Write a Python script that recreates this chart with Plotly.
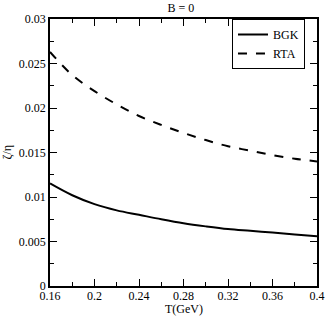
import plotly.graph_objects as go

# temperature grid (GeV)
T = [0.16, 0.18, 0.20, 0.22, 0.24, 0.26, 0.28, 0.30, 0.32, 0.34, 0.36, 0.38, 0.40]

# zeta/eta ratios
bgk = [0.01153, 0.0102, 0.0092, 0.0085, 0.0080, 0.0075, 0.00705, 0.0067, 0.0064, 0.0062, 0.0060, 0.0058, 0.0056]
rta = [0.0263, 0.0237, 0.0219, 0.0204, 0.0191, 0.0181, 0.0172, 0.0164, 0.0157, 0.0152, 0.0147, 0.0143, 0.0140]

serif = "Liberation Serif, Times New Roman, serif"

fig = go.Figure()
fig.add_trace(go.Scatter(x=T, y=bgk, mode="lines", name="BGK",
                         line=dict(color="black", width=2, shape="spline")))
fig.add_trace(go.Scatter(x=T, y=rta, mode="lines", name="RTA",
                         line=dict(color="black", width=2, dash="dash", shape="spline")))

axis_style = dict(
    showline=True, linecolor="black", linewidth=1.5, mirror="allticks",
    ticks="inside", ticklen=7, tickwidth=1, tickcolor="black",
    showgrid=False, zeroline=False, automargin=False,
    tickfont=dict(family=serif, size=12, color="black"),
)

fig.update_layout(
    template="none",
    width=327, height=316,
    paper_bgcolor="white", plot_bgcolor="white",
    margin=dict(l=50, r=10, t=19, b=30),
    font=dict(family=serif, size=12, color="black"),
    title=dict(text="B = 0", x=0.5535, xanchor="center", y=0.975, yanchor="middle",
               pad=dict(t=0, b=0), font=dict(family=serif, size=12)),
    showlegend=True,
    legend=dict(x=0.955, y=1.0, xanchor="right", yanchor="top",
                bordercolor="black", borderwidth=1, bgcolor="white",
                font=dict(family=serif, size=12),
                tracegroupgap=0, itemwidth=30),
    xaxis=dict(range=[0.16, 0.4], dtick=0.04, tick0=0.16, ticklabeloverflow="allow",
               ticklabelstandoff=-2,
               minor=dict(dtick=0.02, ticklen=4, ticks="inside", tickcolor="black"),
               **axis_style),
    yaxis=dict(range=[0, 0.03], dtick=0.005,
               minor=dict(dtick=0.0025, ticklen=4, ticks="inside", tickcolor="black"),
               **axis_style),
)

# axis titles
fig.add_annotation(text="T(GeV)", xref="paper", yref="paper", x=0.5, y=0,
                   yanchor="middle", yshift=-23, showarrow=False,
                   font=dict(family=serif, size=12))
fig.add_annotation(text="ζ/η", xref="paper", yref="paper", x=0, y=0.5,
                   xanchor="center", xshift=-44, textangle=-90, showarrow=False,
                   font=dict(family=serif, size=12))

# drop the default 8px body margin so the figure fills the window
fig.write_html("out.html", config={"displayModeBar": False},
               post_script="document.body.style.margin='0';")
